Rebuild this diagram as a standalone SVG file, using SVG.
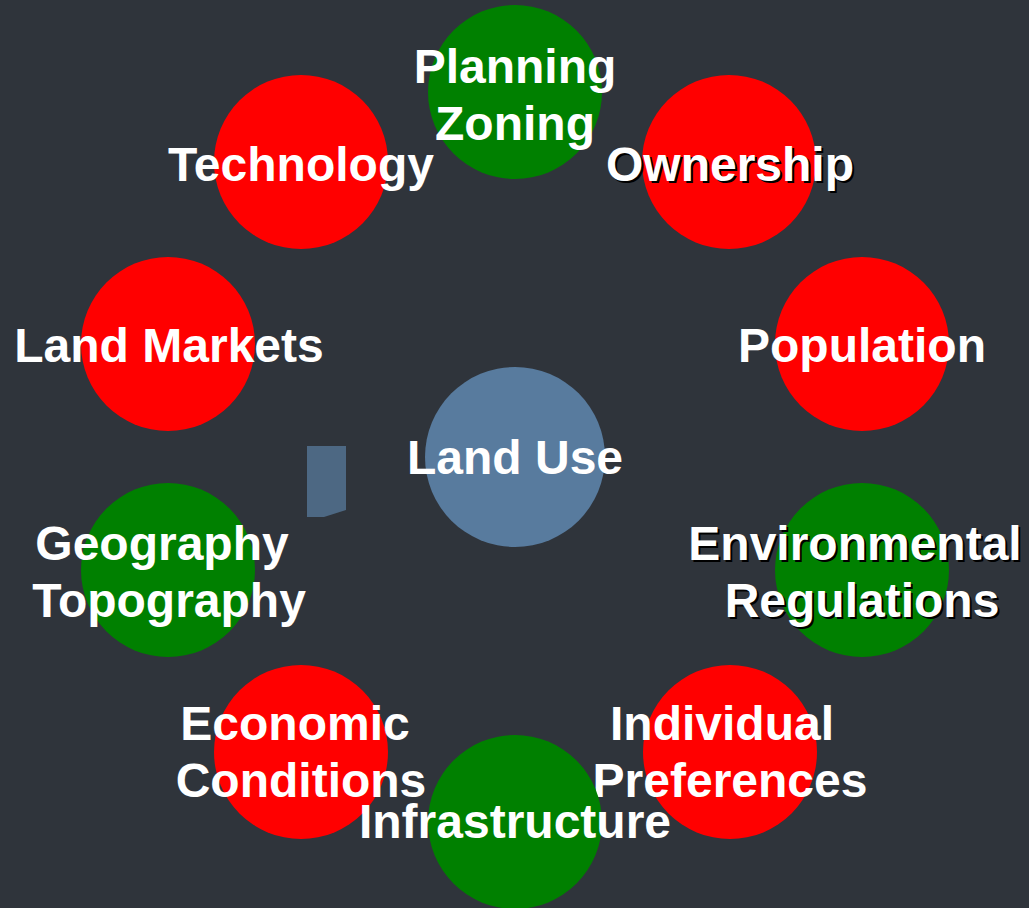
<svg xmlns="http://www.w3.org/2000/svg" width="1029" height="908" viewBox="0 0 1029 908">
<style>
.t{font-family:"Liberation Sans",Arial,sans-serif;font-weight:bold;font-size:48px;fill:#ffffff;text-anchor:middle}
.s{font-family:"Liberation Sans",Arial,sans-serif;font-weight:bold;font-size:48px;fill:#000000;text-anchor:middle}
.r{fill:#ff0000}.g{fill:#008000}
</style>
<rect width="1029" height="908" fill="#2f343b"/>
<g id="connectors"/>
<g id="marker-shape"><polygon points="307,446 346,446 346,510 324,517 307,517" fill="#4d6883"/></g>
<g id="planning"><circle class="g" cx="515" cy="92" r="87"/><text class="t" x="515" y="83">Planning</text><text class="t" x="515" y="140">Zoning</text></g>
<g id="technology"><circle class="r" cx="301" cy="162" r="87"/><text class="t" x="301" y="181">Technology</text></g>
<g id="ownership"><circle class="r" cx="729" cy="162" r="87"/><text class="s" x="732" y="183">Ownership</text><text class="t" x="730" y="181">Ownership</text></g>
<g id="landmarkets"><circle class="r" cx="168" cy="344" r="87"/><text class="t" x="169" y="362">Land Markets</text></g>
<g id="population"><circle class="r" cx="862" cy="344" r="87"/><text class="t" x="862" y="362">Population</text></g>
<g id="landuse"><circle cx="515" cy="457" r="90" fill="#587b9e"/><text class="t" x="515" y="474">Land Use</text></g>
<g id="geography"><circle class="g" cx="168" cy="570" r="87"/><text class="t" x="162" y="560">Geography</text><text class="t" x="169" y="617">Topography</text></g>
<g id="environmental"><circle class="g" cx="862" cy="570" r="87"/><text class="s" x="857" y="562">Environmental</text><text class="t" x="855" y="560">Environmental</text><text class="s" x="864" y="619">Regulations</text><text class="t" x="862" y="617">Regulations</text></g>
<g id="economic"><circle class="r" cx="301" cy="752" r="87"/><text class="t" x="295" y="740">Economic</text><text class="t" x="301" y="797">Conditions</text></g>
<g id="individual"><circle class="r" cx="730" cy="752" r="87"/><text class="t" x="722" y="740">Individual</text><text class="t" x="730" y="797">Preferences</text></g>
<g id="infrastructure"><circle class="g" cx="515" cy="822" r="87"/><text class="t" x="515" y="838">Infrastructure</text></g>
</svg>
